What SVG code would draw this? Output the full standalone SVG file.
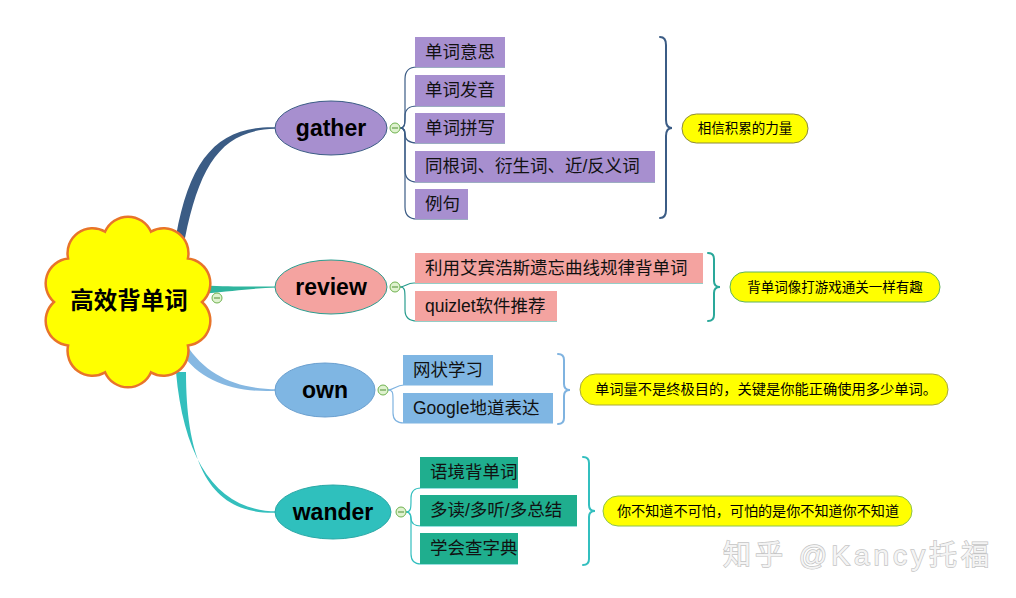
<svg xmlns="http://www.w3.org/2000/svg" width="1016" height="598" viewBox="0 0 1016 598">
<style>
text{font-family:"Liberation Sans","Noto Sans CJK SC",sans-serif;dominant-baseline:central}
.topic{font-size:23px;font-weight:bold;fill:#000;text-anchor:middle}
.sub{font-size:17.5px;fill:#111}
.note{font-size:13.5px;fill:#000}
.minus circle{fill:#dff2cf;stroke:#6fb24f;stroke-width:1}
.minus line{stroke:#4e8f33;stroke-width:1}
.brace{fill:none;stroke-width:2;stroke-linecap:round}
.link{fill:none;stroke-width:1.2}
</style>
<rect width="1016" height="598" fill="#fff"/>

<g id="connectors">
  <path d="M176,236 C190,158 218,126 275,127.2 L275,128.8 C222,130 200,164 185,238 Z" fill="#3b5c85"/>
  <path d="M204,285.5 C235,287 255,286.5 277,286.4 L277,287.6 C255,288 235,291 204,293.5 Z" fill="#2fb59e"/>
  <path d="M186,344 C206,376 238,389 277,389.3 L277,390.7 C236,393 200,382 181,352 Z" fill="#86b8e2"/>
  <path d="M176,372 C184,462 218,511 277,511.3 L277,512.7 C214,515 186,470 186,372 Z" fill="#34bfbd"/>

  <g stroke="#3b5c85" class="link">
    <path d="M400,128 C405,128 405,124 405,115 V79 Q405,67 417,67 H505"/>
    <path d="M400,128 C405,128 405,124 405,116 Q405,106 417,106 H505"/>
    <path d="M400,128 C405,128 405,131 405,134 Q405,143 417,143 H505"/>
    <path d="M400,128 C405,128 405,132 405,140 V170 Q405,182 417,182 H655"/>
    <path d="M400,128 C405,128 405,132 405,140 V207 Q405,219 417,219 H468"/>
  </g>
  <g stroke="#2a9d8f" class="link">
    <path d="M400,287 C405,287 407,283 414,283 H703"/>
    <path d="M400,287 C405,287 405,290 405,300 V310 Q405,321 417,321 H557"/>
  </g>
  <g stroke="#7fb3e0" class="link">
    <path d="M388,390 C394,390 396,385 404,385 H493"/>
    <path d="M388,390 C393,390 393,393 393,400 V413 Q393,423 404,423 H553"/>
  </g>
  <g stroke="#33bfbf" class="link">
    <path d="M406,512 C411,512 411,508 411,500 V498 Q411,488 421,488 H518"/>
    <path d="M406,512 C411,512 411,516 411,518 Q411,526 421,526 H577"/>
    <path d="M406,512 C411,512 411,516 411,524 V554 Q411,564 421,564 H518"/>
  </g>

  <path class="brace" stroke="#3b5c85" d="M660,37 Q666,37 666,45 V120 Q666,128 672,128 Q666,128 666,136 V210 Q666,218 660,218"/>
  <path class="brace" stroke="#2aa89a" d="M708,253 Q714,253 714,259 V281 Q714,287 720,287 Q714,287 714,293 V315 Q714,321 708,321"/>
  <path class="brace" stroke="#7fb3e0" d="M558,354 Q564,354 564,360 V384 Q564,390 570,390 Q564,390 564,396 V418 Q564,424 558,424"/>
  <path class="brace" stroke="#33bfbf" d="M583,457 Q589,457 589,463 V505 Q589,511 595,511 Q589,511 589,517 V559 Q589,565 583,565"/>
</g>

<g id="central">
  <path d="M202,302 A25,25 0 0 0 187.9,258.5 A25,25 0 0 0 150.9,231.6 A25,25 0 0 0 105.1,231.6 A25,25 0 0 0 68.1,258.5 A25,25 0 0 0 54,302 A25,25 0 0 0 68.1,345.5 A25,25 0 0 0 105.1,372.4 A25,25 0 0 0 150.9,372.4 A25,25 0 0 0 187.9,345.5 A25,25 0 0 0 202,302 Z" fill="#ffff00" stroke="#e8742a" stroke-width="2.5"/>
  <text x="129" y="301" text-anchor="middle" style="font-size:23.5px;font-weight:bold">高效背单词</text>
  <g class="minus"><circle cx="217" cy="298" r="5"/><line x1="214" y1="298" x2="220" y2="298"/></g>
</g>

<g id="gather">
  <ellipse cx="331" cy="128" rx="56" ry="27" fill="#a78fcf" stroke="#3b5c85" stroke-width="1"/>
  <text class="topic" x="331" y="128">gather</text>
  <g class="minus"><circle cx="395" cy="128" r="5"/><line x1="392" y1="128" x2="398" y2="128"/></g>
</g>
<g id="gather-items" fill="#a78fcf">
  <rect x="415" y="37" width="90" height="30"/><text class="sub" x="425" y="52">单词意思</text>
  <rect x="415" y="75" width="90" height="31"/><text class="sub" x="425" y="90">单词发音</text>
  <rect x="415" y="113" width="90" height="30"/><text class="sub" x="425" y="128">单词拼写</text>
  <rect x="415" y="151" width="240" height="31"/><text class="sub" x="425" y="166">同根词、衍生词、近/反义词</text>
  <rect x="415" y="189" width="53" height="30"/><text class="sub" x="425" y="204">例句</text>
</g>
<g id="gather-note">
  <rect x="682" y="114" width="126" height="29" rx="14.5" fill="#ffff00" stroke="#8c8a3a" stroke-width="1"/>
  <text class="note" x="745" y="128.5" text-anchor="middle">相信积累的力量</text>
</g>

<g id="review">
  <ellipse cx="331" cy="287" rx="56" ry="27" fill="#f4a3a0" stroke="#2a9d8f" stroke-width="1"/>
  <text class="topic" x="331" y="287">review</text>
  <g class="minus"><circle cx="395" cy="287" r="5"/><line x1="392" y1="287" x2="398" y2="287"/></g>
</g>
<g id="review-items" fill="#f4a3a0">
  <rect x="415" y="253" width="288" height="30"/><text class="sub" x="425" y="268">利用艾宾浩斯遗忘曲线规律背单词</text>
  <rect x="415" y="291" width="142" height="30"/><text class="sub" x="425" y="306">quizlet软件推荐</text>
</g>
<g id="review-note">
  <rect x="730" y="272" width="210" height="30" rx="15" fill="#ffff00" stroke="#5fb35f" stroke-width="1"/>
  <text class="note" x="835" y="287" text-anchor="middle">背单词像打游戏通关一样有趣</text>
</g>

<g id="own">
  <ellipse cx="325" cy="390" rx="50" ry="27" fill="#7fb6e3" stroke="#6a9fcf" stroke-width="1"/>
  <text class="topic" x="325" y="390">own</text>
  <g class="minus"><circle cx="383" cy="390" r="5"/><line x1="380" y1="390" x2="386" y2="390"/></g>
</g>
<g id="own-items" fill="#7fb6e3">
  <rect x="403" y="355" width="90" height="30"/><text class="sub" x="413" y="370">网状学习</text>
  <rect x="403" y="393" width="150" height="30"/><text class="sub" x="413" y="408">Google地道表达</text>
</g>
<g id="own-note">
  <rect x="580" y="374" width="368" height="31" rx="15.5" fill="#ffff00" stroke="#a9a83c" stroke-width="1"/>
  <text class="note" x="595" y="389.5" textLength="342" lengthAdjust="spacingAndGlyphs">单词量不是终极目的，关键是你能正确使用多少单词。</text>
</g>

<g id="wander">
  <ellipse cx="333" cy="512" rx="58" ry="27" fill="#2fc0bd" stroke="#2aa8a6" stroke-width="1"/>
  <text class="topic" x="333" y="512">wander</text>
  <g class="minus"><circle cx="401" cy="512" r="5"/><line x1="398" y1="512" x2="404" y2="512"/></g>
</g>
<g id="wander-items" fill="#1fae8e">
  <rect x="420" y="457" width="98" height="31"/><text class="sub" x="430" y="472">语境背单词</text>
  <rect x="420" y="495" width="157" height="31"/><text class="sub" x="430" y="510">多读/多听/多总结</text>
  <rect x="420" y="533" width="98" height="31"/><text class="sub" x="430" y="548">学会查字典</text>
</g>
<g id="wander-note">
  <rect x="603" y="496" width="309" height="30" rx="15" fill="#ffff00" stroke="#8cc24e" stroke-width="1"/>
  <text class="note" x="617" y="511" textLength="282" lengthAdjust="spacingAndGlyphs">你不知道不可怕，可怕的是你不知道你不知道</text>
</g>

<g id="watermark">
  <text x="723" y="555" style="font-size:28px" fill="none" stroke="#c4c4c4" stroke-width="1.4" textLength="266">知乎 @Kancy托福</text>
  <text x="723" y="555" style="font-size:28px" fill="#f4f4f4" textLength="266">知乎 @Kancy托福</text>
</g>
</svg>
